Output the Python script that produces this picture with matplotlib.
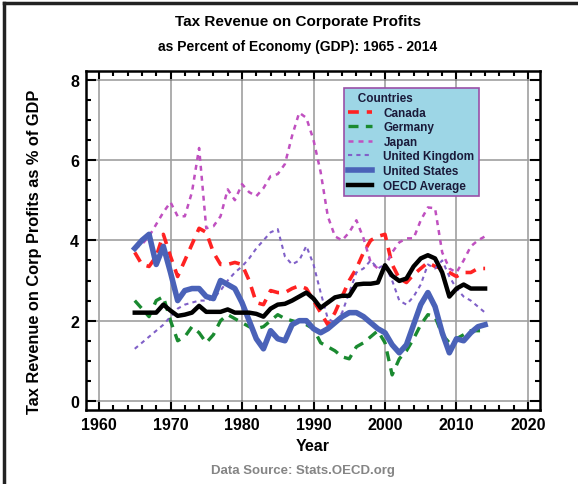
import matplotlib
matplotlib.use("Agg")
import matplotlib.pyplot as plt
from matplotlib.lines import Line2D
from matplotlib.ticker import MultipleLocator

plt.rcParams['font.family'] = ['Liberation Sans', 'DejaVu Sans']
plt.rcParams['font.weight'] = 'bold'

years = list(range(1965, 2015))

canada = [3.7, 3.4, 3.35, 3.6, 4.15, 3.6, 3.1, 3.5, 3.9, 4.3,
          4.2, 3.7, 3.4, 3.4, 3.45, 3.4, 3.0, 2.45, 2.4, 2.75,
          2.7, 2.7, 2.8, 2.87, 2.8, 2.5, 2.2, 1.9, 2.2, 2.6,
          3.0, 3.3, 3.7, 4.0, 4.1, 4.15, 3.4, 3.05, 2.95, 3.15,
          3.3, 3.45, 3.35, 3.3, 3.2, 3.1, 3.2, 3.2, 3.3, 3.3]
germany = [2.5, 2.3, 2.1, 2.5, 2.6, 2.0, 1.5, 1.6, 1.85, 1.7,
           1.45, 1.65, 2.0, 2.15, 2.05, 1.95, 1.85, 1.8, 1.85, 2.0,
           2.15, 2.05, 2.0, 1.95, 1.9, 1.8, 1.45, 1.35, 1.25, 1.1,
           1.05, 1.35, 1.45, 1.6, 1.75, 1.45, 0.65, 1.05, 1.25, 1.55,
           1.9, 2.15, 2.1, 1.65, 1.45, 1.55, 1.65, 1.75, 1.75, 1.75]
japan = [3.8, 3.9, 4.1, 4.4, 4.7, 4.95, 4.6, 4.6, 5.2, 6.3,
         4.3, 4.35, 4.6, 5.27, 5.0, 5.4, 5.2, 5.1, 5.3, 5.6,
         5.65, 5.9, 6.6, 7.18, 7.05, 6.5, 5.7, 4.6, 4.1, 4.0,
         4.2, 4.5, 4.05, 3.45, 3.3, 3.35, 3.7, 3.95, 4.05, 4.05,
         4.5, 4.82, 4.8, 3.7, 3.3, 3.2, 3.5, 3.85, 4.0, 4.1]
uk = [1.3, 1.45, 1.6, 1.75, 1.9, 2.1, 2.3, 2.4, 2.45, 2.5,
      2.5, 2.55, 2.75, 3.0, 3.2, 3.35, 3.55, 3.8, 4.0, 4.2,
      4.28, 3.6, 3.4, 3.5, 3.86, 3.4, 2.7, 2.05, 1.95, 2.2,
      2.7, 3.2, 3.3, 3.5, 3.3, 3.4, 3.0, 2.5, 2.4, 2.6,
      2.9, 3.4, 3.3, 3.5, 3.1, 2.8, 2.6, 2.5, 2.35, 2.2]
usa = [3.8, 4.0, 4.15, 3.4, 3.85, 3.2, 2.5, 2.75, 2.8, 2.8,
       2.6, 2.55, 3.0, 2.9, 2.8, 2.45, 2.0, 1.55, 1.3, 1.75,
       1.55, 1.5, 1.9, 2.0, 2.0, 1.8, 1.7, 1.8, 1.95, 2.1,
       2.2, 2.2, 2.1, 1.95, 1.8, 1.7, 1.4, 1.2, 1.4, 1.9,
       2.4, 2.7, 2.35, 1.7, 1.2, 1.55, 1.5, 1.7, 1.85, 1.9]
oecd = [2.2, 2.2, 2.2, 2.2, 2.4, 2.25, 2.12, 2.15, 2.2, 2.37,
        2.22, 2.22, 2.22, 2.28, 2.2, 2.2, 2.2, 2.17, 2.1, 2.3,
        2.4, 2.42, 2.5, 2.6, 2.7, 2.55, 2.32, 2.45, 2.58, 2.62,
        2.62, 2.9, 2.92, 2.92, 2.95, 3.38, 3.12, 2.99, 3.05, 3.35,
        3.55, 3.63, 3.55, 3.2, 2.6, 2.8, 2.9, 2.8, 2.8, 2.8]

labels = ["Canada", "Germany", "Japan", "United Kingdom", "United States", "OECD Average"]

W, H = 578, 485
fig = plt.figure(figsize=(W / 100, H / 100), dpi=100)
ax = fig.add_axes([86 / W, 1 - 411 / H, 454 / W, 339 / H])

ax.plot(years, canada, color='#ff2222', lw=2.6, dashes=(3, 2.2), label=labels[0])
ax.plot(years, germany, color='#1a8a30', lw=2.4, dashes=(3, 2.2), label=labels[1])
ax.plot(years, japan, color='#c050c0', lw=1.8, dashes=(2, 2), label=labels[2])
ax.plot(years, uk, color='#8060c8', lw=1.5, dashes=(2, 2), label=labels[3])
ax.plot(years, usa, color='#4a62b8', lw=4.0, label=labels[4], solid_joinstyle='round')
ax.plot(years, oecd, color='black', lw=3.2, label=labels[5], solid_joinstyle='round')

ax.set_xlim(1958.18, 2021.68)
ax.set_ylim(-0.224, 8.217)
ax.xaxis.set_major_locator(MultipleLocator(10))
ax.xaxis.set_minor_locator(MultipleLocator(2))
ax.yaxis.set_major_locator(MultipleLocator(2))
ax.yaxis.set_minor_locator(MultipleLocator(0.5))
ax.grid(True, which='major', color='#a0a0a0', lw=1.2)
ax.set_axisbelow(True)
ax.tick_params(which='both', direction='in', top=True, right=True, width=1.5)
ax.tick_params(which='major', length=7, labelsize=11.5, pad=5)
ax.tick_params(which='minor', length=3.5)
for lab in ax.get_xticklabels() + ax.get_yticklabels():
    lab.set_fontweight('bold')
for s in ax.spines.values():
    s.set_linewidth(1.8)

fig.text(313 / W, 1 - 447 / H, "Year", ha='center', va='center', fontsize=11.5, fontweight='bold')
fig.text(35 / W, 1 - 252 / H, "Tax Revenue on Corp Profits as % of GDP", ha='center', va='center',
         rotation=90, fontsize=11.8, fontweight='bold')

leg = ax.legend(loc='upper left', bbox_to_anchor=(0.568, 0.95), title="   Countries",
                fancybox=False, framealpha=1, facecolor='#9dd6e6', edgecolor='#9a50a8',
                fontsize=8.5, title_fontsize=8.5, labelspacing=0.22, handlelength=2.0,
                handletextpad=1.0, borderpad=0.35, borderaxespad=0, alignment='left')
leg.get_frame().set_linewidth(1.2)
leg.get_title().set_fontweight('bold')
leg.get_title().set_color('#1a1a3a')
for t in leg.get_texts():
    t.set_color('#1a1a3a')
    t.set_fontweight('bold')

fig.text(0.515, 1 - 22 / H, "Tax Revenue on Corporate Profits", ha='center', va='center',
         fontsize=11, fontweight='bold')
fig.text(0.515, 1 - 47 / H, "as Percent of Economy (GDP): 1965 - 2014", ha='center', va='center',
         fontsize=10, fontweight='bold')
fig.text(303 / W, 1 - 471 / H, "Data Source: Stats.OECD.org", ha='center', va='center',
         fontsize=9.5, fontweight='bold', color='#858585')

fig.add_artist(Line2D([3.5 / W, 3.5 / W], [0, 1 - 3.5 / H], color='#222222', lw=2.5))
fig.add_artist(Line2D([3.5 / W, 1], [1 - 3.5 / H, 1 - 3.5 / H], color='#222222', lw=2.5))

fig.savefig("out.png", dpi=100)
